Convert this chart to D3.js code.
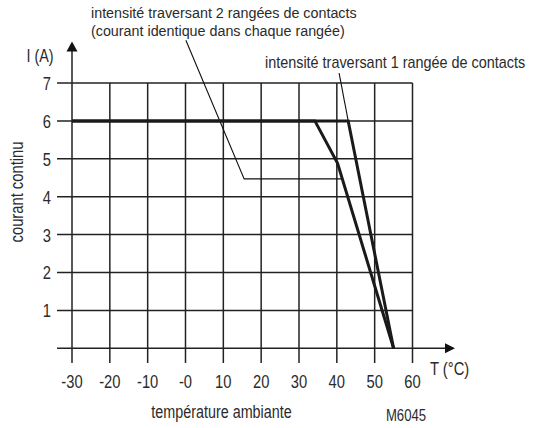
<!DOCTYPE html>
<html><head><meta charset="utf-8">
<script src="https://cdn.jsdelivr.net/npm/d3@7"></script>
<style>
html,body{margin:0;padding:0;background:#fff;}
svg{display:block;}
text{font-family:"Liberation Sans",Arial,sans-serif;fill:#2b2b2b;}
</style></head>
<body><svg id="c" width="534" height="428"></svg>
<script>
// ---- data ----
const tempTicks = [-30, -20, -10, 0, 10, 20, 30, 40, 50, 60];
const tempLabels = ["-30", "-20", "-10", "-0", "10", "20", "30", "40", "50", "60"];
const currentTicks = [0, 1, 2, 3, 4, 5, 6, 7];
const currentLabels = ["", "1", "2", "3", "4", "5", "6", "7"];
// intensité traversant 1 rangée de contacts
const oneRowT = [-30, 43, 55];
const oneRowI = [6, 6, 0];
// intensité traversant 2 rangées de contacts
const twoRowT = [-30, 34.2, 40.2, 55];
const twoRowI = [6, 6, 4.88, 0];
// leader lines (data units)
const leaderTwoT = [0.1, 15.5, 41.4];
const leaderTwoI = [8.13, 4.47, 4.47];
const leaderOneT = [40.6, 43];
const leaderOneI = [7.26, 6];
const labelTwoRows = ["intensité traversant 2 rangées de contacts", "(courant identique dans chaque rangée)"];
const labelOneRow = "intensité traversant 1 rangée de contacts";

// ---- chart ----
const svg = d3.select("#c");
const x = d3.scaleLinear().domain([-30, 60]).range([72, 412.5]);
const y = d3.scaleLinear().domain([0, 7]).range([348.3, 83]);
const lineCol = "#222";

// condensed text helper: squeeze horizontally around the anchor point
function squeeze(sel, s) {
  sel.each(function () {
    const t = d3.select(this);
    const tx = +t.attr("x") || 0, ty = +t.attr("y") || 0;
    const pre = t.attr("transform") || "";
    t.attr("transform", `${pre} translate(${tx},${ty}) scale(${s},1) translate(${-tx},${-ty})`);
  });
  return sel;
}

const g = svg.append("g");
// horizontal grid
g.selectAll("line.h").data(currentTicks).join("line")
  .attr("x1", 57).attr("x2", d => d === 0 ? 446 : x(60))
  .attr("y1", d => y(d)).attr("y2", d => y(d))
  .attr("stroke", lineCol).attr("stroke-width", 1.5);
// vertical grid
g.selectAll("line.v").data(tempTicks).join("line")
  .attr("x1", d => x(d)).attr("x2", d => x(d))
  .attr("y1", d => d === -30 ? 51 : y(7)).attr("y2", 363)
  .attr("stroke", lineCol).attr("stroke-width", 1.5);
// arrows
const x0 = x(-30), yTop = 41.5;
svg.append("path").attr("d", `M${x0},${yTop} L${x0-5.5},${yTop+10} L${x0+5.5},${yTop+10} Z`).attr("fill", "#111");
const y0 = y(0), xEnd = 455;
svg.append("path").attr("d", `M${xEnd},${y0} L${xEnd-10},${y0-5} L${xEnd-10},${y0+5} Z`).attr("fill", "#111");

// tick labels
squeeze(svg.selectAll("text.yt").data(currentTicks).join("text")
  .attr("x", 51).attr("y", d => y(d) + 7)
  .attr("text-anchor", "end").attr("font-size", 18)
  .text((d, i) => currentLabels[i]), 0.82);
squeeze(svg.selectAll("text.xt").data(tempTicks).join("text")
  .attr("x", d => x(d)).attr("y", 388)
  .attr("text-anchor", "middle").attr("font-size", 18)
  .text((d, i) => tempLabels[i]), 0.82);

// axis titles
squeeze(svg.append("text").attr("x", 26.5).attr("y", 62.5).attr("font-size", 17.5).text("I (A)"), 0.82);
squeeze(svg.append("text").attr("x", 430).attr("y", 375).attr("font-size", 18).text("T (°C)"), 0.82);
squeeze(svg.append("text").attr("x", 221.5).attr("y", 418).attr("text-anchor", "middle").attr("font-size", 17.5).text("température ambiante"), 0.82);
squeeze(svg.append("text").attr("transform", "translate(23,192) rotate(-90)").attr("text-anchor", "middle").attr("font-size", 18).text("courant continu"), 0.82);
squeeze(svg.append("text").attr("x", 406).attr("y", 421.5).attr("text-anchor", "middle").attr("font-size", 16).text("M6045"), 0.82);

// leaders
const line = d3.line().x(d => x(d[0])).y(d => y(d[1]));
svg.append("path").attr("d", line(d3.zip(leaderTwoT, leaderTwoI)))
  .attr("fill", "none").attr("stroke", "#111").attr("stroke-width", 1.1);
svg.append("path").attr("d", line(d3.zip(leaderOneT, leaderOneI)))
  .attr("fill", "none").attr("stroke", "#111").attr("stroke-width", 1.1);

// curves
[[twoRowT, twoRowI], [oneRowT, oneRowI]].forEach(([t, v]) => {
  svg.append("path").attr("d", line(d3.zip(t, v)))
    .attr("fill", "none").attr("stroke", "#1a1a1a").attr("stroke-width", 3)
    .attr("stroke-linejoin", "miter");
});

// annotations (two-line label as one text block)
const a2 = svg.append("text").attr("x", 91).attr("y", 18.5).attr("font-size", 15.5);
a2.selectAll("tspan").data(labelTwoRows).join("tspan")
  .attr("x", 91).attr("dy", (d, i) => i === 0 ? 0 : 17.4).text(d => d);
squeeze(a2, 0.924);
squeeze(svg.append("text").attr("x", 265).attr("y", 68.5).attr("font-size", 16).text(labelOneRow), 0.9);
</script></body></html>
